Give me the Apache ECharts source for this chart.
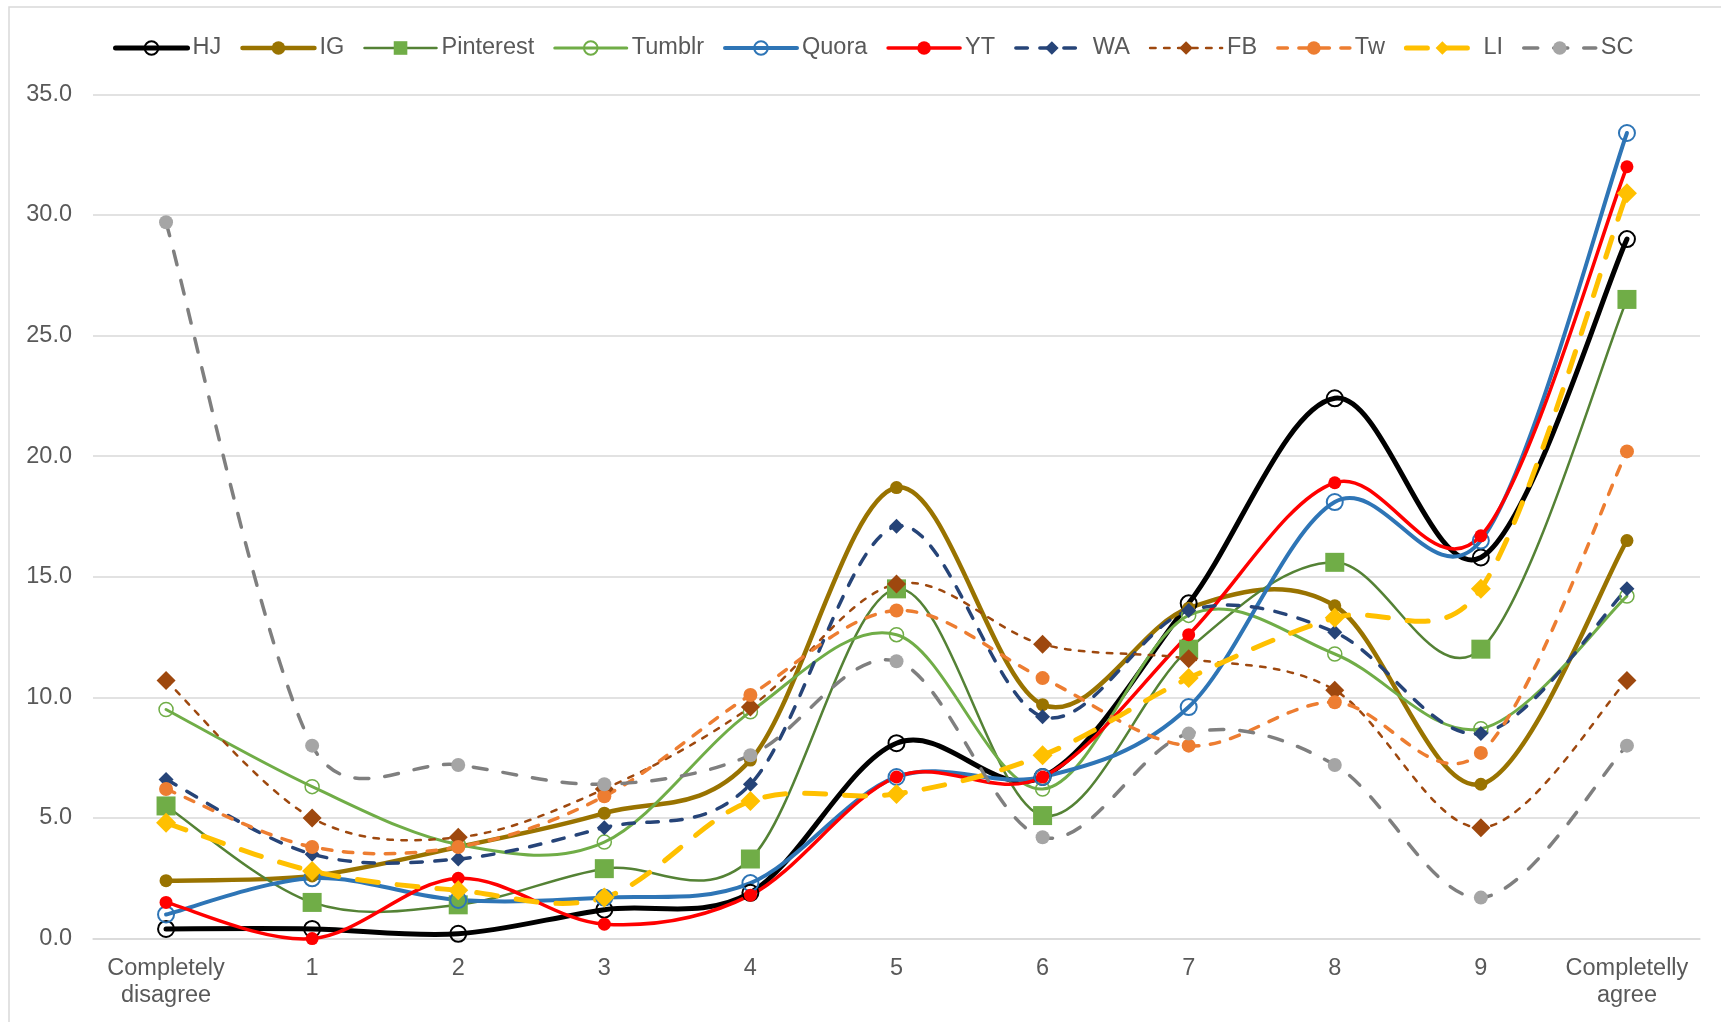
<!DOCTYPE html>
<html>
<head>
<meta charset="utf-8">
<script src="https://cdn.jsdelivr.net/npm/echarts@6/dist/echarts.min.js"></script>
<style>
html, body { margin: 0; padding: 0; background: #fff; }
#chart { width: 1721px; height: 1022px; }
</style>
</head>
<body>
<div id="chart"></div>
<script>
var categories = ['Completely\ndisagree', '1', '2', '3', '4', '5', '6', '7', '8', '9', 'Completelly\nagree'];

var hj        = [0.4, 0.4, 0.2, 1.2, 1.9, 8.1, 6.7, 13.9, 22.4, 15.8, 29.0];
var ig        = [2.4, 2.6, 3.8, 5.2, 7.4, 18.7, 9.7, 13.7, 13.8, 6.4, 16.5];
var pinterest = [5.5, 1.5, 1.4, 2.9, 3.3, 14.5, 5.1, 12.0, 15.6, 12.0, 26.5];
var tumblr    = [9.5, 6.3, 3.9, 4.0, 9.4, 12.6, 6.2, 13.4, 11.8, 8.7, 14.2];
var quora     = [1.0, 2.5, 1.6, 1.7, 2.3, 6.7, 6.7, 9.6, 18.1, 16.5, 33.4];
var yt        = [1.5, 0.0, 2.5, 0.6, 1.8, 6.7, 6.7, 12.6, 18.9, 16.7, 32.0];
var wa        = [6.6, 3.5, 3.3, 4.6, 6.4, 17.1, 9.2, 13.6, 12.7, 8.5, 14.5];
var fb        = [10.7, 5.0, 4.2, 6.2, 9.6, 14.7, 12.2, 11.6, 10.3, 4.6, 10.7];
var tw        = [6.2, 3.8, 3.8, 5.9, 10.1, 13.6, 10.8, 8.0, 9.8, 7.7, 20.2];
var li        = [4.8, 2.8, 2.0, 1.7, 5.7, 6.0, 7.6, 10.8, 13.3, 14.5, 30.9];
var sc        = [29.7, 8.0, 7.2, 6.4, 7.6, 11.5, 4.2, 8.5, 7.2, 1.7, 8.0];

var yTicks = { min: 0, max: 35, interval: 5 };

// looks per series (line + marker)
var looks = [
    { name: 'HJ',        data: hj,        color: '#000000', width: 5,   dash: null,     symbol: 'circle',  size: 16, fill: 'rgba(255,255,255,0)', border: 2 },
    { name: 'IG',        data: ig,        color: '#997300', width: 4.5, dash: null,     symbol: 'circle',  size: 13, fill: '#997300', border: 0 },
    { name: 'Pinterest', data: pinterest, color: '#548235', width: 2.5, dash: null,     symbol: 'rect',    size: 19, fill: '#70ad47', border: 0 },
    { name: 'Tumblr',    data: tumblr,    color: '#70ad47', width: 3,   dash: null,     symbol: 'circle',  size: 14, fill: 'rgba(255,255,255,0)', border: 1.5 },
    { name: 'Quora',     data: quora,     color: '#2e75b6', width: 4,   dash: null,     symbol: 'circle',  size: 16, fill: 'rgba(255,255,255,0)', border: 2 },
    { name: 'YT',        data: yt,        color: '#ff0000', width: 3.5, dash: null,     symbol: 'circle',  size: 13, fill: '#ff0000', border: 0 },
    { name: 'WA',        data: wa,        color: '#264478', width: 3.5, dash: [11.5, 12.5], symbol: 'diamond', size: 15, fill: '#264478', border: 0 },
    { name: 'FB',        data: fb,        color: '#9e480e', width: 2.5, dash: [5.5, 8.5], symbol: 'diamond', size: 19, fill: '#9e480e', border: 0 },
    { name: 'Tw',        data: tw,        color: '#ed7d31', width: 3.5, dash: [9.5, 11.5], symbol: 'circle',  size: 14, fill: '#ed7d31', border: 0 },
    { name: 'LI',        data: li,        color: '#ffc000', width: 5,   dash: [21, 19],   symbol: 'diamond', size: 20, fill: '#ffc000', border: 0 },
    { name: 'SC',        data: sc,        color: '#7f7f7f', width: 3.5, dash: [14, 16], symbol: 'circle', size: 14, fill: '#a5a5a5', border: 0 }
];

var chart = echarts.init(document.getElementById('chart'));

var font = 'Liberation Sans, Arial, sans-serif';
var textColor = '#595959';

// limit a control arm to half of the segment it belongs to
function arm(dx, dy, segLen) {
    var len = Math.sqrt(dx * dx + dy * dy);
    var k = len > segLen * 0.5 && len > 0 ? segLen * 0.5 / len : 1;
    return [dx * k, dy * k];
}

// Excel-like smoothed curve: cubic bezier, control points at 1/6 of neighbour chord
function curvePath(pts) {
    var n = pts.length;
    var d = 'M' + pts[0][0] + ' ' + pts[0][1];
    for (var i = 0; i < n - 1; i++) {
        var p0 = pts[Math.max(i - 1, 0)], p1 = pts[i], p2 = pts[i + 1], p3 = pts[Math.min(i + 2, n - 1)];
        var seg = Math.sqrt(Math.pow(p2[0] - p1[0], 2) + Math.pow(p2[1] - p1[1], 2));
        var a1 = arm((p2[0] - p0[0]) / 6, (p2[1] - p0[1]) / 6, seg);
        var a2 = arm((p3[0] - p1[0]) / 6, (p3[1] - p1[1]) / 6, seg);
        d += ' C' + (p1[0] + a1[0]) + ' ' + (p1[1] + a1[1]) + ' ' +
             (p2[0] - a2[0]) + ' ' + (p2[1] - a2[1]) + ' ' + p2[0] + ' ' + p2[1];
    }
    return d;
}

var series = [];
looks.forEach(function (lk) {
    series.push({
        name: lk.name + ' curve',
        type: 'custom',
        silent: true,
        data: lk.data.map(function (v, i) { return [i, v]; }),
        encode: { x: 0, y: 1 },
        renderItem: function (params, api) {
            if (params.dataIndex !== 0) return null;
            var pts = lk.data.map(function (v, i) { return api.coord([i, v]); });
            return {
                type: 'path',
                shape: { pathData: curvePath(pts) },
                style: {
                    fill: null,
                    stroke: lk.color,
                    lineWidth: lk.width,
                    lineDash: lk.dash,
                    lineCap: 'round',
                    lineJoin: 'round'
                }
            };
        }
    });
    series.push({
        name: lk.name,
        type: 'line',
        data: lk.data,
        symbol: lk.symbol,
        symbolSize: lk.symbol === 'diamond' ? [lk.size, lk.size] : lk.size,
        showAllSymbol: true,
        lineStyle: { width: 0 },
        itemStyle: { color: lk.fill, borderColor: lk.color, borderWidth: lk.border },
        emphasis: { disabled: true }
    });
});

var option = {
    animation: false,
    backgroundColor: '#ffffff',
    textStyle: { fontFamily: font },
    graphic: [{
        type: 'rect',
        shape: { x: 9, y: 7, width: 1800, height: 1100 },
        style: { fill: 'none', stroke: '#d9d9d9', lineWidth: 1.5 },
        silent: true
    }],
    legend: {
        left: 108,
        top: 31,
        itemWidth: 72,
        itemHeight: 17,
        itemGap: 19,
        textStyle: { fontSize: 23.5, color: textColor, fontFamily: font },
        data: looks.map(function (lk) {
            return {
                name: lk.name,
                lineStyle: { color: lk.color, width: lk.width, type: lk.dash || 'solid', cap: 'round' }
            };
        })
    },
    grid: { left: 93, right: 21, top: 94.4, bottom: 83.4 },
    xAxis: {
        type: 'category',
        data: categories,
        boundaryGap: true,
        axisLine: { show: true, lineStyle: { color: '#d9d9d9', width: 1.5 } },
        axisTick: { show: false },
        axisLabel: {
            interval: 0,
            margin: 16,
            fontSize: 23.5,
            lineHeight: 27,
            color: textColor,
            fontFamily: font
        }
    },
    yAxis: {
        type: 'value',
        min: yTicks.min,
        max: yTicks.max,
        interval: yTicks.interval,
        axisLine: { show: false },
        axisTick: { show: false },
        splitLine: { lineStyle: { color: '#d9d9d9', width: 1.5 } },
        axisLabel: {
            margin: 21,
            fontSize: 23.5,
            color: textColor,
            fontFamily: font,
            formatter: function (v) { return v.toFixed(1); }
        }
    },
    series: series
};

chart.setOption(option);
</script>
</body>
</html>
